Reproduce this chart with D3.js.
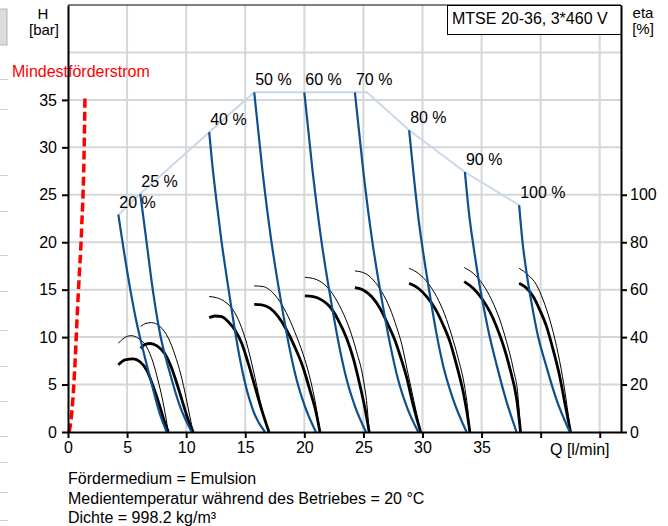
<!DOCTYPE html>
<html>
<head>
<meta charset="utf-8">
<script src="https://cdn.jsdelivr.net/npm/d3@7"></script>
<style>
  body { margin: 0; background: #fff; }
  svg { display: block; font-family: "Liberation Sans", Arial, sans-serif; }
</style>
</head>
<body>
<script>
// speed steps of the pump
var speeds = ["20 %", "25 %", "40 %", "50 %", "60 %", "70 %", "80 %", "90 %", "100 %"];

// head curves H [bar] over Q [l/min], one array per speed
var headQ = [
  [4.26, 5.08, 5.76, 6.42, 7.14, 7.75, 8.35],
  [6.12, 6.66, 7.22, 7.78, 8.63, 9.48, 10.47],
  [11.95, 12.22, 12.55, 12.98, 13.47, 13.90, 14.36, 14.92, 15.75, 16.67],
  [15.76, 16.45, 17.20, 17.72, 18.20, 18.72, 19.35, 20.05, 20.98],
  [20.0, 20.69, 21.44, 21.96, 22.44, 22.96, 23.59, 24.29, 25.22],
  [24.28, 24.98, 25.74, 26.27, 26.76, 27.30, 27.94, 28.66, 29.64],
  [28.87, 29.21, 29.68, 30.22, 30.67, 31.15, 31.73, 32.55, 33.73],
  [33.59, 33.95, 34.36, 34.76, 35.14, 35.66, 36.27, 37.02, 37.96],
  [38.18, 38.45, 38.83, 39.26, 39.76, 40.44, 41.29, 42.47]
];
var headH = [
  [22.9, 16.4, 11.8, 8.3, 4.8, 2.0, 0],
  [25.1, 19.9, 14.6, 10.4, 6.2, 2.7, 0],
  [31.6, 28.1, 24.5, 20.2, 16.0, 12.5, 9.0, 5.5, 2.0, 0],
  [35.8, 27.6, 20.2, 16.0, 12.5, 9.0, 5.5, 2.7, 0],
  [35.8, 27.6, 20.2, 16.0, 12.5, 9.0, 5.5, 2.7, 0],
  [35.8, 27.6, 20.2, 16.0, 12.5, 9.0, 5.5, 2.7, 0],
  [31.8, 27.6, 22.3, 17.6, 14.1, 10.6, 7.1, 3.6, 0],
  [27.4, 22.9, 19.2, 16.0, 13.4, 10.2, 7.1, 3.6, 0],
  [23.9, 20.2, 16.6, 13.4, 10.2, 7.1, 3.6, 0]
];

// efficiency curves eta [%] (thick line)
var etaQ = [
  [4.26, 4.82, 5.52, 6.09, 6.66, 7.22, 7.78, 8.21, 8.49],
  [6.15, 6.51, 6.94, 7.53, 8.21, 8.77, 9.33, 9.90, 10.32, 10.60],
  [11.95, 12.44, 13.00, 13.56, 14.13, 14.70, 15.25, 15.82, 16.39, 17.01],
  [15.76, 16.39, 17.09, 17.79, 18.50, 19.20, 19.91, 20.47, 21.04, 21.32],
  [20.05, 20.75, 21.46, 22.17, 22.87, 23.58, 24.14, 24.70, 25.13, 25.49],
  [24.28, 24.98, 25.69, 26.40, 27.10, 27.66, 28.17, 28.65, 29.21, 29.84],
  [28.87, 29.64, 30.35, 31.05, 31.75, 32.32, 32.88, 33.44, 33.76, 34.01],
  [33.53, 34.29, 35.00, 35.70, 36.27, 36.83, 37.39, 37.96, 38.30],
  [38.18, 38.81, 39.37, 39.93, 40.50, 41.06, 41.62, 42.05, 42.53]
];
var etaVal = [
  [28.3, 30.4, 30.8, 29.6, 26.1, 19.1, 10.7, 3.7, 0],
  [35.3, 36.9, 37.3, 36.3, 32.9, 27.0, 18.6, 9.3, 3.0, 0],
  [48.2, 48.9, 48.6, 46.5, 43.0, 37.4, 29.0, 19.1, 9.3, 0],
  [53.8, 53.6, 52.2, 48.6, 43.0, 35.8, 27.0, 17.7, 7.2, 0],
  [57.4, 57.1, 55.7, 52.8, 47.2, 39.5, 31.1, 19.8, 10.0, 0],
  [60.9, 59.9, 57.1, 52.2, 45.1, 38.8, 31.2, 23.2, 11.4, 0],
  [62.7, 60.6, 57.1, 52.2, 45.1, 38.1, 28.3, 17.0, 8.4, 0],
  [63.4, 60.6, 56.4, 50.7, 44.4, 36.7, 26.9, 14.2, 0],
  [62.7, 60.6, 57.1, 51.4, 44.4, 34.6, 23.3, 12.1, 0]
];

// second efficiency curves (thin line)
var eta2Q = [
  [4.26, 4.74, 5.33, 5.95, 6.66, 7.19, 7.61, 7.95, 8.29, 8.49],
  [6.15, 6.60, 7.06, 7.78, 8.49, 9.05, 9.56, 9.98, 10.32, 10.60],
  [11.95, 12.58, 13.28, 13.98, 14.55, 15.12, 15.68, 16.24, 17.01],
  [15.76, 16.52, 17.23, 17.94, 18.64, 19.35, 20.05, 20.56, 21.04, 21.32],
  [20.05, 20.90, 21.74, 22.45, 23.16, 23.86, 24.42, 24.98, 25.30, 25.49],
  [24.28, 25.13, 25.83, 26.54, 27.24, 27.83, 28.26, 28.71, 29.27, 29.84],
  [28.87, 29.64, 30.48, 31.19, 31.90, 32.46, 33.02, 33.59, 33.84, 34.01],
  [33.53, 34.29, 35.14, 35.85, 36.55, 37.11, 37.67, 38.10, 38.30],
  [38.18, 38.94, 39.65, 40.21, 40.78, 41.35, 41.85, 42.24, 42.53]
];
var eta2Val = [
  [37.4, 39.6, 40.6, 39.5, 35.8, 29.5, 21.9, 14.8, 5.9, 0],
  [44.5, 45.8, 46.1, 44.5, 39.6, 32.5, 24.0, 14.8, 6.3, 0],
  [57.1, 56.6, 54.9, 51.4, 45.8, 37.4, 26.1, 13.5, 0],
  [61.6, 61.3, 59.2, 54.9, 48.6, 40.2, 30.4, 21.1, 9.3, 0],
  [65.2, 64.5, 62.0, 57.8, 51.4, 43.0, 33.9, 22.6, 11.4, 0],
  [67.9, 66.9, 64.1, 59.2, 52.2, 43.9, 36.7, 26.1, 13.1, 0],
  [69.0, 66.9, 62.7, 57.1, 49.3, 40.9, 31.1, 18.4, 9.3, 0],
  [69.3, 66.9, 62.0, 55.7, 47.2, 38.1, 26.9, 14.2, 0],
  [69.0, 66.2, 62.0, 55.7, 47.2, 36.0, 23.3, 10.7, 0]
];

// operating range limit (light blue)
var limitQ = [4.26, 6.12, 11.95, 15.76, 25.3, 28.87, 33.59, 38.18];
var limitH = [22.9, 25.1, 31.6, 35.8, 35.8, 31.8, 27.4, 23.9];

// minimum flow (red dashed)
var minFlowQ = [0.1, 0.25, 0.45, 0.87, 1.16, 1.35, 1.44];
var minFlowH = [0, 1.2, 4.1, 14.6, 21.6, 28.7, 35.5];

var xTicks = [0, 5, 10, 15, 20, 25, 30, 35, 40, 45];
var hTicks = [0, 5, 10, 15, 20, 25, 30, 35];
var etaTicks = [0, 20, 40, 60, 80, 100];
var notes = [
  "Fördermedium = Emulsion",
  "Medientemperatur während des Betriebes = 20 °C",
  "Dichte = 998.2 kg/m³"
];
var title = "MTSE 20-36, 3*460 V";

var width = 668, height = 526;
var x = d3.scaleLinear().domain([0, 46.8]).range([68, 621]);
var y = d3.scaleLinear().domain([0, 45]).range([432, 5]);
var yEta = d3.scaleLinear().domain([0, 180]).range([432, 5]);

var svg = d3.select("body").append("svg")
    .attr("width", width)
    .attr("height", height);

// page leftovers at the left border
svg.append("rect").attr("x", -1).attr("y", 9).attr("width", 8).attr("height", 36)
    .attr("fill", "#dcdcdc").attr("stroke", "#b4b4b4");
[79, 109, 175, 211, 255, 291, 330, 366, 401, 436, 462, 492, 520].forEach(function(v) {
  svg.append("line").attr("x1", 0).attr("x2", 8).attr("y1", v + 0.5).attr("y2", v + 0.5)
      .attr("stroke", "#d0d0d0");
});

// grid
var grid = svg.append("g").attr("stroke", "#d4d7da").attr("stroke-width", 2);
grid.selectAll(".gx").data(xTicks.filter(function(d) { return d > 0; }))
  .enter().append("line")
    .attr("x1", function(d) { return x(d); }).attr("x2", function(d) { return x(d); })
    .attr("y1", y(0)).attr("y2", y(45));
grid.selectAll(".gy").data([5, 10, 15, 20, 25, 30, 35, 40])
  .enter().append("line")
    .attr("y1", function(d) { return y(d); }).attr("y2", function(d) { return y(d); })
    .attr("x1", x(0)).attr("x2", x(46.8));

// limit line
svg.append("path")
    .datum(limitQ.map(function(q, i) { return [q, limitH[i]]; }))
    .attr("fill", "none")
    .attr("stroke", "#c8d8ea")
    .attr("stroke-width", 2)
    .attr("d", d3.line().x(function(d) { return x(d[0]); }).y(function(d) { return y(d[1]); }));

var etaLine = d3.line()
    .curve(d3.curveMonotoneX)
    .x(function(d) { return x(d[0]); })
    .y(function(d) { return yEta(d[1]); });

var headLine = d3.line()
    .curve(d3.curveMonotoneX)
    .x(function(d) { return x(d[0]); })
    .y(function(d) { return y(d[1]); });

// thin efficiency curves
svg.append("g").selectAll("path")
    .data(eta2Q.map(function(qs, k) { return qs.map(function(q, i) { return [q, eta2Val[k][i]]; }); }))
  .enter().append("path")
    .attr("fill", "none").attr("stroke", "#000").attr("stroke-width", 1)
    .attr("d", etaLine);

// thick efficiency curves
svg.append("g").selectAll("path")
    .data(etaQ.map(function(qs, k) { return qs.map(function(q, i) { return [q, etaVal[k][i]]; }); }))
  .enter().append("path")
    .attr("fill", "none").attr("stroke", "#000").attr("stroke-width", 2.8)
    .attr("d", etaLine);

// head curves
svg.append("g").selectAll("path")
    .data(headQ.map(function(qs, k) { return qs.map(function(q, i) { return [q, headH[k][i]]; }); }))
  .enter().append("path")
    .attr("fill", "none").attr("stroke", "#0d4f8f").attr("stroke-width", 2.2)
    .attr("d", headLine);

// speed labels
svg.append("g").selectAll("text")
    .data(speeds)
  .enter().append("text")
    .attr("x", function(d, i) { return x(headQ[i][0]) + 1; })
    .attr("y", function(d, i) { return y(headH[i][0]) - 7; })
    .attr("font-size", 16)
    .text(function(d) { return d; });

// minimum flow
svg.append("path")
    .datum(minFlowQ.map(function(q, i) { return [q, minFlowH[i]]; }))
    .attr("fill", "none")
    .attr("stroke", "#ff0000")
    .attr("stroke-width", 3.5)
    .attr("stroke-dasharray", "9,4")
    .attr("d", headLine);

svg.append("text").attr("x", 12).attr("y", 77).attr("font-size", 16)
    .attr("fill", "#ff0000").text("Mindestförderstrom");

// axes
var axL = svg.append("g").attr("transform", "translate(" + x(0) + ",0)")
    .call(d3.axisLeft(y).tickValues(hTicks).tickSize(6).tickPadding(5).tickSizeOuter(0));
var axB = svg.append("g").attr("transform", "translate(0," + y(0) + ")")
    .call(d3.axisBottom(x).tickValues(xTicks).tickSize(6).tickPadding(4).tickSizeOuter(0)
      .tickFormat(function(d) { return d <= 35 ? d : ""; }));
var axR = svg.append("g").attr("transform", "translate(" + x(46.8) + ",0)")
    .call(d3.axisRight(yEta).tickValues(etaTicks).tickSize(6).tickPadding(3).tickSizeOuter(0));

[axL, axB, axR].forEach(function(a) {
  a.select(".domain").attr("stroke", "#000").attr("stroke-width", 2);
  a.selectAll(".tick line").attr("stroke", "#000").attr("stroke-width", 2);
  a.selectAll(".tick text").attr("font-size", 16).attr("fill", "#000")
      .attr("font-family", "Liberation Sans, Arial, sans-serif");
});

// top border
svg.append("line").attr("x1", x(0)).attr("x2", x(46.8)).attr("y1", y(45)).attr("y2", y(45))
    .attr("stroke", "#000").attr("stroke-width", 1);

// title box
svg.append("rect").attr("x", 447.5).attr("y", 5.5).attr("width", x(46.8) - 447.5).attr("height", 29)
    .attr("fill", "#fff").attr("stroke", "#000").attr("stroke-width", 1);
svg.append("text").attr("x", 452).attr("y", 24).attr("font-size", 16).text(title);

// axis titles
svg.append("text").attr("x", 43).attr("y", 19).attr("text-anchor", "middle").attr("font-size", 15).text("H");
svg.append("text").attr("x", 44).attr("y", 35).attr("text-anchor", "middle").attr("font-size", 15).text("[bar]");
svg.append("text").attr("x", 643).attr("y", 18).attr("text-anchor", "middle").attr("font-size", 15).text("eta");
svg.append("text").attr("x", 643).attr("y", 34).attr("text-anchor", "middle").attr("font-size", 15).text("[%]");
svg.append("text").attr("x", 550).attr("y", 455).attr("font-size", 16).text("Q [l/min]");

// notes below the chart
svg.append("g").selectAll("text")
    .data(notes)
  .enter().append("text")
    .attr("x", 68)
    .attr("y", function(d, i) { return 484 + i * 19.5; })
    .attr("font-size", 16)
    .text(function(d) { return d; });
</script>
</body>
</html>
